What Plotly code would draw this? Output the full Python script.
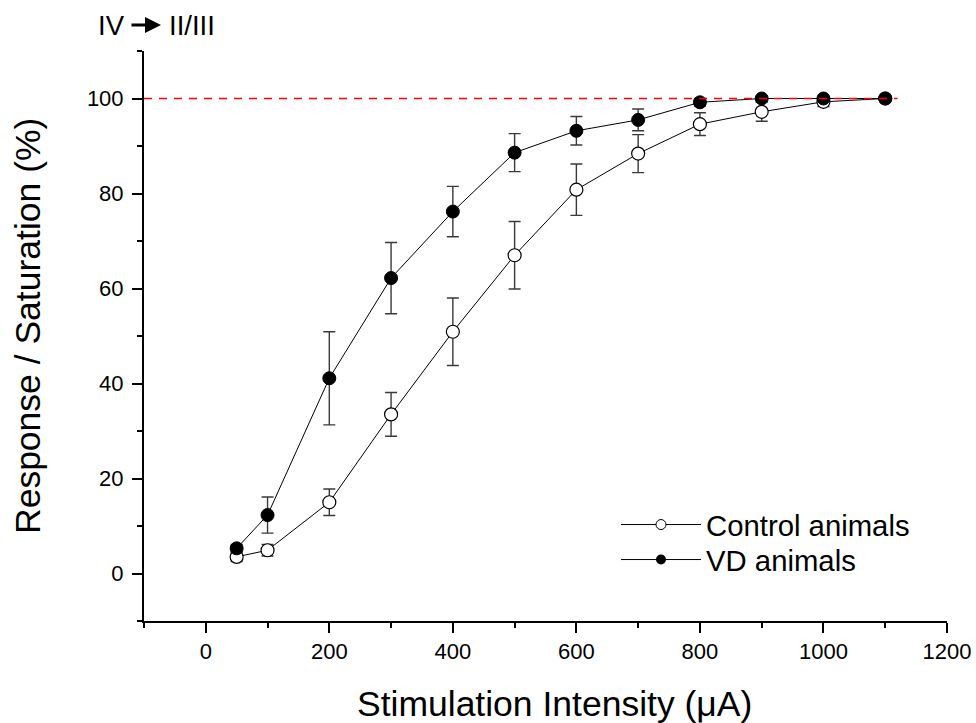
import plotly.graph_objects as go

# Stimulation intensities (uA)
intensity = [50, 100, 200, 300, 400, 500, 600, 700, 800, 900, 1000, 1100]

# Normalised responses (% of saturation) with SEM
control_mean = [3.5, 4.9, 15.0, 33.5, 50.9, 67.0, 80.8, 88.4, 94.6, 97.2, 99.3, 100.0]
control_sem = [1.0, 1.2, 2.8, 4.6, 7.1, 7.1, 5.4, 4.0, 2.4, 2.0, 1.0, 0.5]

vd_mean = [5.3, 12.3, 41.1, 62.2, 76.2, 88.6, 93.2, 95.5, 99.2, 100.0, 100.0, 100.0]
vd_sem = [0.8, 3.8, 9.8, 7.5, 5.3, 4.0, 3.0, 2.3, 0.8, 0.4, 0.4, 0.3]

saturation_level = 100
saturation_span = [-100, 1120]

FONT = "Liberation Sans, Arial, sans-serif"
err_style = dict(type="data", thickness=1.4, width=6, color="#3a3a3a")

# plot area in pixels: left 144, right 947, top 51, bottom 621
L, R, T, B = 144, 947, 51, 621
W, H = R - L, B - T


def px(xp):
    return (xp - L) / W


def py(yp):
    return (B - yp) / H


fig = go.Figure()

fig.add_trace(go.Scatter(
    x=intensity, y=control_mean, mode="lines+markers", name="Control animals",
    error_y=dict(array=control_sem, **err_style),
    line=dict(color="black", width=1),
    marker=dict(symbol="circle", size=13, color="white",
                line=dict(color="black", width=1.2)),
    showlegend=False,
))
fig.add_trace(go.Scatter(
    x=intensity, y=vd_mean, mode="lines+markers", name="VD animals",
    error_y=dict(array=vd_sem, **err_style),
    line=dict(color="black", width=1),
    marker=dict(symbol="circle", size=13, color="black",
                line=dict(color="black", width=1)),
    showlegend=False,
))

# legend entries with smaller symbols, one legend box per row
fig.add_trace(go.Scatter(
    x=[None], y=[None], mode="lines+markers", name="Control animals",
    line=dict(color="black", width=1),
    marker=dict(symbol="circle", size=10, color="white",
                line=dict(color="black", width=1)),
    legend="legend",
))
fig.add_trace(go.Scatter(
    x=[None], y=[None], mode="lines+markers", name="VD animals",
    line=dict(color="black", width=1),
    marker=dict(symbol="circle", size=10, color="black"),
    legend="legend2",
))

fig.add_shape(type="line", xref="x", yref="y",
              x0=saturation_span[0], x1=saturation_span[1],
              y0=saturation_level, y1=saturation_level,
              line=dict(color="red", width=1.5, dash="8px,7px"))

axis_common = dict(
    showgrid=False, zeroline=False, showline=True, linewidth=2,
    linecolor="black", ticks="outside", ticklen=10, tickwidth=2,
    tickcolor="black", tickfont=dict(family=FONT, size=22, color="black"),
    automargin=False,
)

fig.update_xaxes(range=[-100, 1200], tick0=0, dtick=200,
                 minor=dict(dtick=100, ticks="outside", ticklen=5,
                            tickwidth=2, tickcolor="black"),
                 **axis_common)
fig.update_yaxes(range=[-10, 110], tick0=0, dtick=20, ticklabelstandoff=4,
                 minor=dict(dtick=10, ticks="outside", ticklen=5,
                            tickwidth=2, tickcolor="black"),
                 **axis_common)

title_font = dict(family=FONT, size=35.5, color="black")
fig.add_annotation(text="Stimulation Intensity (\u03bcA)", xref="paper", yref="paper",
                   x=px(554), y=py(704), showarrow=False, font=title_font,
                   xanchor="center", yanchor="middle")
fig.add_annotation(text="Response / Saturation (%)", xref="paper", yref="paper",
                   x=px(28), y=py(326), textangle=-90, showarrow=False,
                   font=title_font, xanchor="center", yanchor="middle")

# pathway label: IV -> II/III
label_font = dict(family=FONT, size=27.5, color="black")
fig.add_annotation(text="IV", xref="paper", yref="paper", x=px(96), y=py(25),
                   showarrow=False, font=label_font, xanchor="left", yanchor="middle")
fig.add_annotation(text="II/III", xref="paper", yref="paper", x=px(167), y=py(25),
                   showarrow=False, font=label_font, xanchor="left", yanchor="middle")
fig.add_annotation(text="", xref="paper", yref="paper", x=px(161), y=py(25),
                   axref="pixel", ayref="pixel", ax=-31, ay=0,
                   showarrow=True, arrowhead=2, arrowsize=1, arrowwidth=3.2,
                   arrowcolor="black", standoff=0, startstandoff=0)

legend_common = dict(xanchor="left", yanchor="middle", bgcolor="rgba(0,0,0,0)",
                     font=dict(family=FONT, size=29.3, color="black"),
                     itemwidth=80, borderwidth=0)

fig.update_layout(
    width=976, height=723,
    margin=dict(l=L, r=976 - R, t=T, b=723 - B),
    paper_bgcolor="white", plot_bgcolor="white",
    legend=dict(x=px(616), y=py(525), **legend_common),
    legend2=dict(x=px(616), y=py(560), **legend_common),
)

fig.write_html("out.html")
